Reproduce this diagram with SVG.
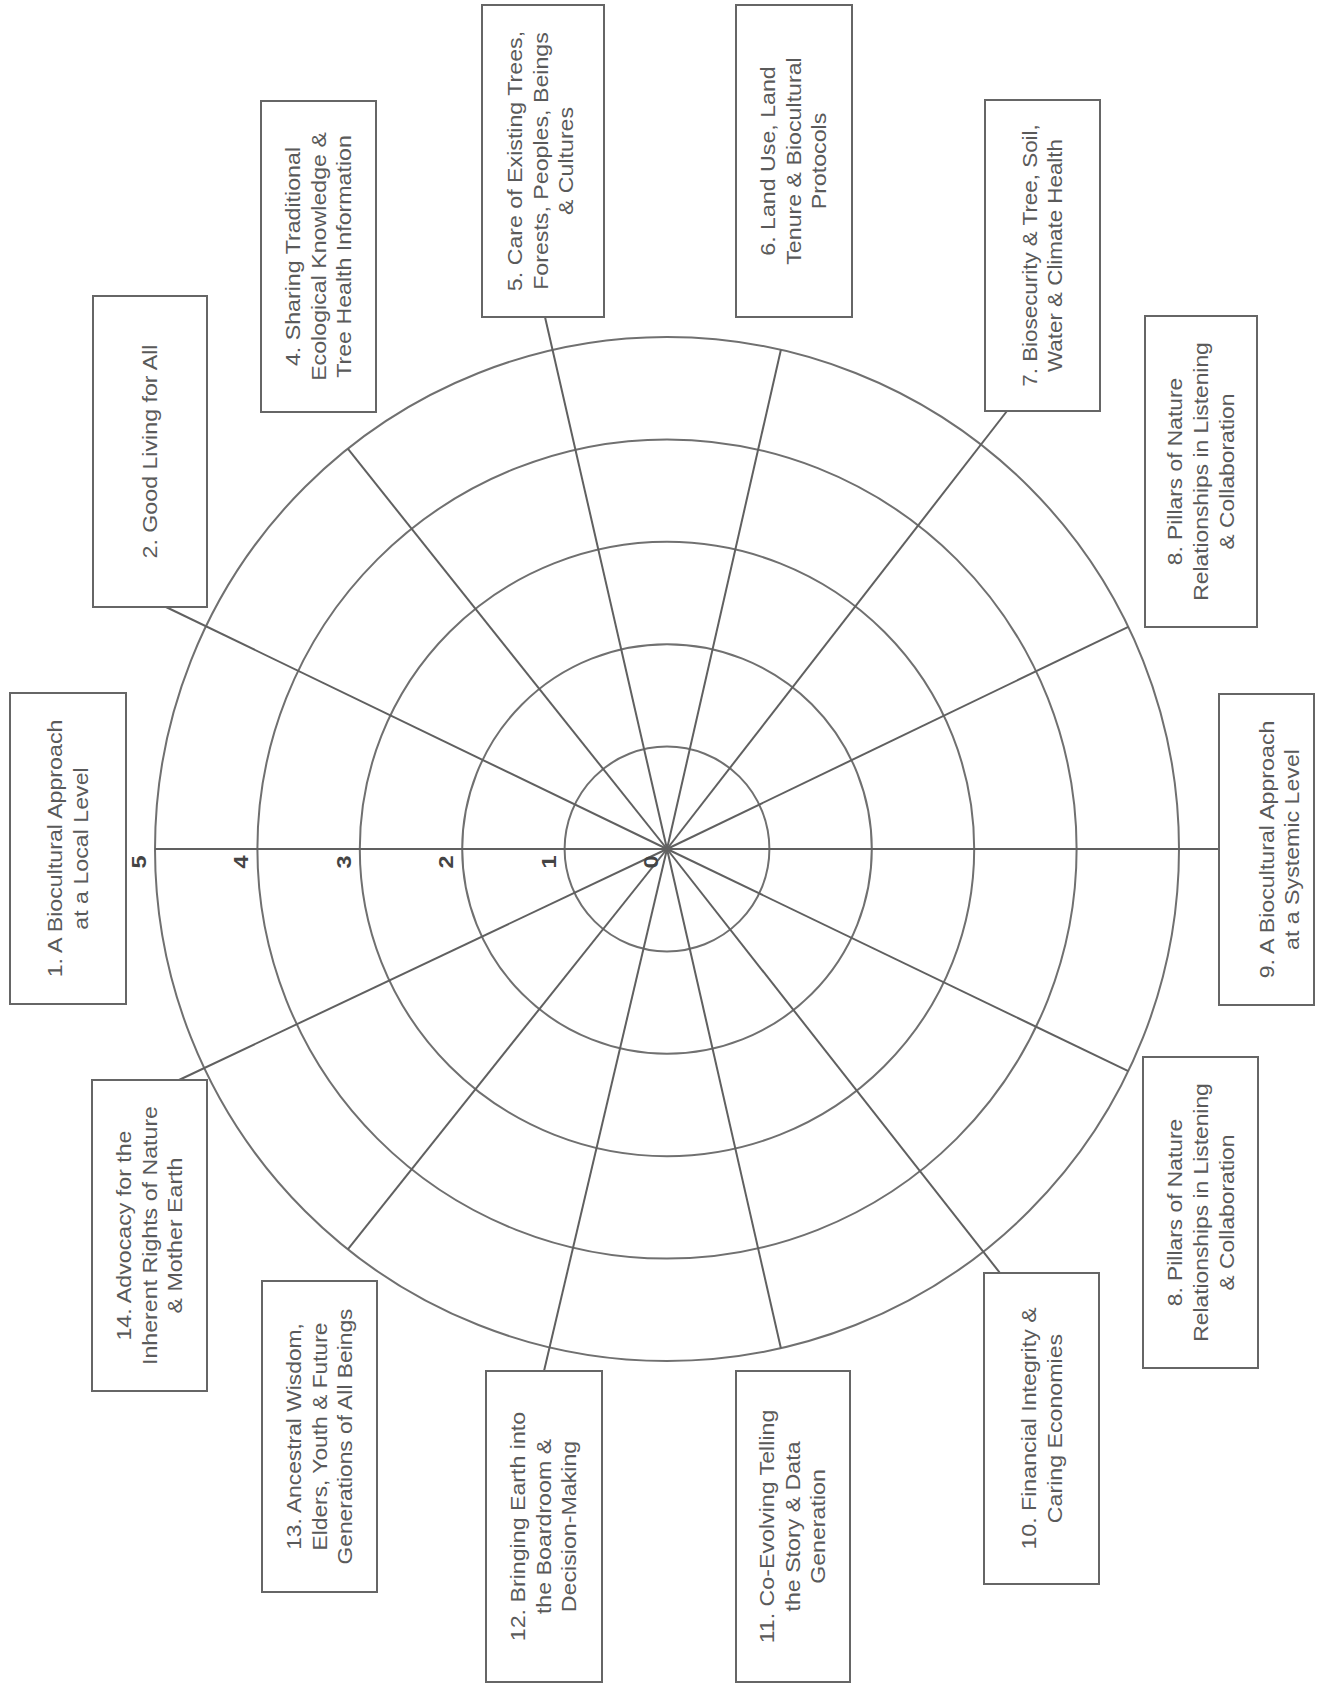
<svg xmlns="http://www.w3.org/2000/svg" width="1320" height="1687" viewBox="0 0 1320 1687">
<style>
.ring{fill:none;stroke:#707070;stroke-width:2}
.spoke{stroke:#606060;stroke-width:2;fill:none}
.box{fill:#fff;stroke:#666;stroke-width:2}
.lbl{font-family:"Liberation Sans",Arial,sans-serif;font-size:20px;fill:#5a5a5a;text-anchor:middle}
.num{font-family:"Liberation Sans",Arial,sans-serif;font-size:21px;font-weight:bold;fill:#444;text-anchor:middle}
</style>
<rect width="1320" height="1687" fill="#fff"/>
<g id="grid">
<circle class="ring" cx="667" cy="849" r="102.4"/>
<circle class="ring" cx="667" cy="849" r="204.8"/>
<circle class="ring" cx="667" cy="849" r="307.2"/>
<circle class="ring" cx="667" cy="849" r="409.6"/>
<circle class="ring" cx="667" cy="849" r="512"/>
</g>
<g id="connectors">
<line class="spoke" x1="667" y1="849" x2="155" y2="849"/>
<line class="spoke" x1="667" y1="849" x2="166" y2="607"/>
<line class="spoke" x1="667" y1="849" x2="347.8" y2="448.7"/>
<line class="spoke" x1="667" y1="849" x2="545" y2="317"/>
<line class="spoke" x1="667" y1="849" x2="780.9" y2="349.8"/>
<line class="spoke" x1="667" y1="849" x2="1007" y2="411"/>
<line class="spoke" x1="667" y1="849" x2="1128.3" y2="626.9"/>
<line class="spoke" x1="667" y1="849" x2="1219" y2="849"/>
<line class="spoke" x1="667" y1="849" x2="1128.3" y2="1071.1"/>
<line class="spoke" x1="667" y1="849" x2="1000" y2="1273"/>
<line class="spoke" x1="667" y1="849" x2="780.9" y2="1348.2"/>
<line class="spoke" x1="667" y1="849" x2="544" y2="1371"/>
<line class="spoke" x1="667" y1="849" x2="347.8" y2="1249.3"/>
<line class="spoke" x1="667" y1="849" x2="179" y2="1080"/>
</g>
<g id="scale">
<text class="num" transform="translate(146,862) rotate(-90) scale(1.12,1)">5</text>
<text class="num" transform="translate(248.4,862) rotate(-90) scale(1.12,1)">4</text>
<text class="num" transform="translate(350.8,862) rotate(-90) scale(1.12,1)">3</text>
<text class="num" transform="translate(453.2,862) rotate(-90) scale(1.12,1)">2</text>
<text class="num" transform="translate(555.6,862) rotate(-90) scale(1.12,1)">1</text>
<text class="num" transform="translate(658,862) rotate(-90) scale(1.12,1)">0</text>
</g>
<g id="n1">
<rect class="box" x="10" y="693" width="116" height="311"/>
<text class="lbl" transform="translate(62,848.5) rotate(-90) scale(1.16,1)">1. A Biocultural Approach</text>
<text class="lbl" transform="translate(87.5,848.5) rotate(-90) scale(1.16,1)">at a Local Level</text>
</g>
<g id="n2">
<rect class="box" x="93" y="296" width="114" height="311"/>
<text class="lbl" transform="translate(157,451.5) rotate(-90) scale(1.16,1)">2. Good Living for All</text>
</g>
<g id="n4">
<rect class="box" x="261" y="101" width="115" height="311"/>
<text class="lbl" transform="translate(300,256.5) rotate(-90) scale(1.16,1)">4. Sharing Traditional</text>
<text class="lbl" transform="translate(325.5,256.5) rotate(-90) scale(1.16,1)">Ecological Knowledge &amp;</text>
<text class="lbl" transform="translate(351,256.5) rotate(-90) scale(1.16,1)">Tree Health Information</text>
</g>
<g id="n5">
<rect class="box" x="482" y="5" width="122" height="312"/>
<text class="lbl" transform="translate(522,161) rotate(-90) scale(1.16,1)">5. Care of Existing Trees,</text>
<text class="lbl" transform="translate(547.5,161) rotate(-90) scale(1.16,1)">Forests, Peoples, Beings</text>
<text class="lbl" transform="translate(573,161) rotate(-90) scale(1.16,1)">&amp; Cultures</text>
</g>
<g id="n6">
<rect class="box" x="736" y="5" width="116" height="312"/>
<text class="lbl" transform="translate(775,161) rotate(-90) scale(1.16,1)">6. Land Use, Land</text>
<text class="lbl" transform="translate(800.5,161) rotate(-90) scale(1.16,1)">Tenure &amp; Biocultural</text>
<text class="lbl" transform="translate(826,161) rotate(-90) scale(1.16,1)">Protocols</text>
</g>
<g id="n7">
<rect class="box" x="985" y="100" width="115" height="311"/>
<text class="lbl" transform="translate(1036.5,255.5) rotate(-90) scale(1.12,1)">7. Biosecurity &amp; Tree, Soil,</text>
<text class="lbl" transform="translate(1062,255.5) rotate(-90) scale(1.12,1)">Water &amp; Climate Health</text>
</g>
<g id="n8a">
<rect class="box" x="1145" y="316" width="112" height="311"/>
<text class="lbl" transform="translate(1182,471.5) rotate(-90) scale(1.14,1)">8. Pillars of Nature</text>
<text class="lbl" transform="translate(1208,471.5) rotate(-90) scale(1.14,1)">Relationships in Listening</text>
<text class="lbl" transform="translate(1234,471.5) rotate(-90) scale(1.14,1)">&amp; Collaboration</text>
</g>
<g id="n9">
<rect class="box" x="1219" y="694" width="95" height="311"/>
<text class="lbl" transform="translate(1274,849.5) rotate(-90) scale(1.16,1)">9. A Biocultural Approach</text>
<text class="lbl" transform="translate(1299,849.5) rotate(-90) scale(1.16,1)">at a Systemic Level</text>
</g>
<g id="n8b">
<rect class="box" x="1143" y="1057" width="115" height="311"/>
<text class="lbl" transform="translate(1181.5,1212.5) rotate(-90) scale(1.14,1)">8. Pillars of Nature</text>
<text class="lbl" transform="translate(1207.5,1212.5) rotate(-90) scale(1.14,1)">Relationships in Listening</text>
<text class="lbl" transform="translate(1233.5,1212.5) rotate(-90) scale(1.14,1)">&amp; Collaboration</text>
</g>
<g id="n10">
<rect class="box" x="984" y="1273" width="115" height="311"/>
<text class="lbl" transform="translate(1036,1428.5) rotate(-90) scale(1.16,1)">10. Financial Integrity &amp;</text>
<text class="lbl" transform="translate(1061.5,1428.5) rotate(-90) scale(1.16,1)">Caring Economies</text>
</g>
<g id="n11">
<rect class="box" x="736" y="1371" width="114" height="311"/>
<text class="lbl" transform="translate(774,1526.5) rotate(-90) scale(1.16,1)">11. Co-Evolving Telling</text>
<text class="lbl" transform="translate(799.5,1526.5) rotate(-90) scale(1.16,1)">the Story &amp; Data</text>
<text class="lbl" transform="translate(825,1526.5) rotate(-90) scale(1.16,1)">Generation</text>
</g>
<g id="n12">
<rect class="box" x="486" y="1371" width="116" height="311"/>
<text class="lbl" transform="translate(525,1526.5) rotate(-90) scale(1.16,1)">12. Bringing Earth into</text>
<text class="lbl" transform="translate(550.5,1526.5) rotate(-90) scale(1.16,1)">the Boardroom &amp;</text>
<text class="lbl" transform="translate(576,1526.5) rotate(-90) scale(1.16,1)">Decision-Making</text>
</g>
<g id="n13">
<rect class="box" x="262" y="1281" width="115" height="311"/>
<text class="lbl" transform="translate(301,1436.5) rotate(-90) scale(1.14,1)">13. Ancestral Wisdom,</text>
<text class="lbl" transform="translate(326.5,1436.5) rotate(-90) scale(1.14,1)">Elders, Youth &amp; Future</text>
<text class="lbl" transform="translate(352,1436.5) rotate(-90) scale(1.14,1)">Generations of All Beings</text>
</g>
<g id="n14">
<rect class="box" x="92" y="1080" width="115" height="311"/>
<text class="lbl" transform="translate(131,1235.5) rotate(-90) scale(1.16,1)">14. Advocacy for the</text>
<text class="lbl" transform="translate(156.5,1235.5) rotate(-90) scale(1.16,1)">Inherent Rights of Nature</text>
<text class="lbl" transform="translate(182,1235.5) rotate(-90) scale(1.16,1)">&amp; Mother Earth</text>
</g>
</svg>
